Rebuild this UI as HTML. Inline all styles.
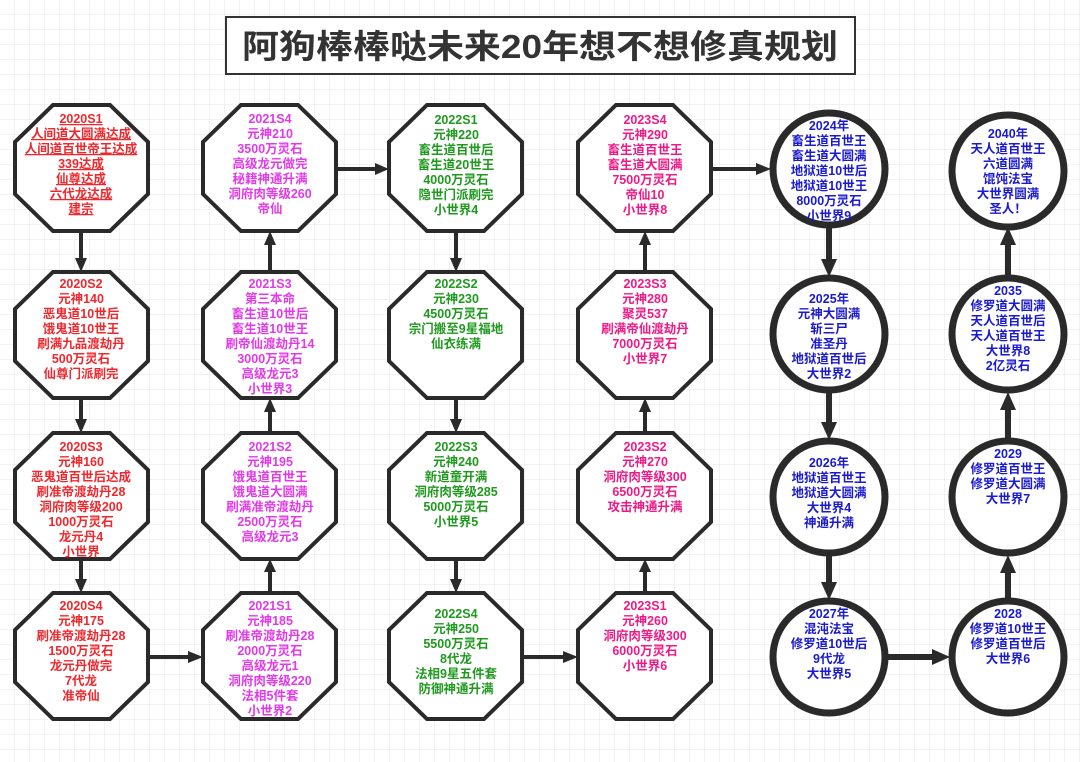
<!DOCTYPE html>
<html><head><meta charset="utf-8">
<style>
html,body{margin:0;padding:0;background:#fff;}
svg{display:block;}
text{font-family:"Liberation Sans","Noto Sans CJK SC",sans-serif;font-size:12.5px;font-weight:bold;text-anchor:middle;}
</style></head><body>
<svg width="1080" height="762" viewBox="0 0 1080 762" xmlns="http://www.w3.org/2000/svg">
<defs>
<pattern id="g" width="15" height="15" patternUnits="userSpaceOnUse">
<path d="M15 0V15H0" fill="none" stroke="#e6e6e6" stroke-width="1"/>
</pattern>
</defs>
<rect width="1080" height="762" fill="#fff"/>
<rect width="1080" height="762" fill="url(#g)"/>

<rect x="226" y="17" width="629" height="57" fill="#fff" stroke="#333" stroke-width="2"/>
<text x="540" y="58" style="font-size:33px;font-weight:bold;fill:#333" textLength="596" lengthAdjust="spacingAndGlyphs">阿狗棒棒哒未来20年想不想修真规划</text>

<g fill="#fff" stroke="#2a2a2a" stroke-width="4" stroke-linejoin="miter">
<polygon points="53,105 110,105 148,142 148,194 110,231 53,231 15,194 15,142"/>
<polygon points="53,272 110,272 148,309 148,361 110,398 53,398 15,361 15,309"/>
<polygon points="53,433 110,433 148,470 148,522 110,559 53,559 15,522 15,470"/>
<polygon points="53,593 110,593 148,630 148,682 110,719 53,719 15,682 15,630"/>
<polygon points="241,105 298,105 336,142 336,194 298,231 241,231 203,194 203,142"/>
<polygon points="241,272 298,272 336,309 336,361 298,398 241,398 203,361 203,309"/>
<polygon points="241,433 298,433 336,470 336,522 298,559 241,559 203,522 203,470"/>
<polygon points="241,593 298,593 336,630 336,682 298,719 241,719 203,682 203,630"/>
<polygon points="427,105 484,105 522,142 522,194 484,231 427,231 389,194 389,142"/>
<polygon points="427,272 484,272 522,309 522,361 484,398 427,398 389,361 389,309"/>
<polygon points="427,433 484,433 522,470 522,522 484,559 427,559 389,522 389,470"/>
<polygon points="427,593 484,593 522,630 522,682 484,719 427,719 389,682 389,630"/>
<polygon points="616,105 673,105 711,142 711,194 673,231 616,231 578,194 578,142"/>
<polygon points="616,272 673,272 711,309 711,361 673,398 616,398 578,361 578,309"/>
<polygon points="616,433 673,433 711,470 711,522 673,559 616,559 578,522 578,470"/>
<polygon points="616,593 673,593 711,630 711,682 673,719 616,719 578,682 578,630"/>
</g>
<g fill="#fff" stroke="#2a2a2a" stroke-width="7">
<circle cx="829" cy="169" r="56"/>
<circle cx="829" cy="334" r="56"/>
<circle cx="829" cy="497" r="56"/>
<circle cx="829" cy="657" r="56"/>
<circle cx="1008" cy="171" r="56"/>
<circle cx="1008" cy="334" r="56"/>
<circle cx="1008" cy="497" r="56"/>
<circle cx="1008" cy="657" r="56"/>
</g>

<g stroke="#2a2a2a" stroke-width="4" fill="none">
<line x1="81" y1="231" x2="81" y2="260"/>
<line x1="81" y1="398" x2="81" y2="421"/>
<line x1="81" y1="559" x2="81" y2="581"/>
<line x1="270" y1="593" x2="270" y2="570"/>
<line x1="270" y1="433" x2="270" y2="410"/>
<line x1="270" y1="272" x2="270" y2="243"/>
<line x1="456" y1="231" x2="456" y2="260"/>
<line x1="456" y1="398" x2="456" y2="421"/>
<line x1="456" y1="559" x2="456" y2="581"/>
<line x1="645" y1="593" x2="645" y2="570"/>
<line x1="645" y1="433" x2="645" y2="410"/>
<line x1="645" y1="272" x2="645" y2="243"/>
<line x1="148" y1="657" x2="190" y2="657"/>
<line x1="336" y1="169" x2="376" y2="169"/>
<line x1="522" y1="657" x2="565" y2="657"/>
<line x1="711" y1="169" x2="757" y2="169"/>
</g>
<g stroke="#2a2a2a" stroke-width="6" fill="none">
<line x1="829" y1="227" x2="829" y2="261"/>
<line x1="829" y1="392" x2="829" y2="424"/>
<line x1="829" y1="555" x2="829" y2="584"/>
<line x1="887" y1="657" x2="934" y2="657"/>
<line x1="1008" y1="600" x2="1008" y2="571"/>
<line x1="1008" y1="440" x2="1008" y2="408"/>
<line x1="1008" y1="277" x2="1008" y2="243"/>
</g>
<g fill="#2a2a2a">
<polygon points="75,258 87,258 81,272"/>
<polygon points="75,419 87,419 81,433"/>
<polygon points="75,579 87,579 81,593"/>
<polygon points="264,572 276,572 270,559"/>
<polygon points="264,412 276,412 270,398"/>
<polygon points="264,245 276,245 270,231"/>
<polygon points="450,258 462,258 456,272"/>
<polygon points="450,419 462,419 456,433"/>
<polygon points="450,579 462,579 456,593"/>
<polygon points="639,572 651,572 645,559"/>
<polygon points="639,412 651,412 645,398"/>
<polygon points="639,245 651,245 645,231"/>
<polygon points="188,651 188,663 203,657"/>
<polygon points="375,163 375,175 389,169"/>
<polygon points="563,651 563,663 578,657"/>
<polygon points="756,163 756,175 771,169"/>
<polygon points="821,259 837,259 829,277"/>
<polygon points="821,422 837,422 829,440"/>
<polygon points="821,582 837,582 829,600"/>
<polygon points="932,649 932,665 950,657"/>
<polygon points="1000,573 1016,573 1008,555"/>
<polygon points="1000,410 1016,410 1008,392"/>
<polygon points="1000,245 1016,245 1008,227"/>
</g>

<g fill="#f0282d">
<g style="text-decoration:underline">
<text x="81" y="123">2020S1</text><text x="81" y="138">人间道大圆满达成</text><text x="81" y="153">人间道百世帝王达成</text><text x="81" y="168">339达成</text><text x="81" y="183">仙尊达成</text><text x="81" y="198">六代龙达成</text><text x="81" y="213">建宗</text>
</g>
<text x="81" y="288">2020S2</text><text x="81" y="303">元神140</text><text x="81" y="318">恶鬼道10世后</text><text x="81" y="333">饿鬼道10世王</text><text x="81" y="348">刷满九品渡劫丹</text><text x="81" y="363">500万灵石</text><text x="81" y="378">仙尊门派刷完</text>
<text x="81" y="451">2020S3</text><text x="81" y="466">元神160</text><text x="81" y="481">恶鬼道百世后达成</text><text x="81" y="496">刷准帝渡劫丹28</text><text x="81" y="511">洞府肉等级200</text><text x="81" y="526">1000万灵石</text><text x="81" y="541">龙元丹4</text><text x="81" y="556">小世界</text>
<text x="81" y="610">2020S4</text><text x="81" y="625">元神175</text><text x="81" y="640">刷准帝渡劫丹28</text><text x="81" y="655">1500万灵石</text><text x="81" y="670">龙元丹做完</text><text x="81" y="685">7代龙</text><text x="81" y="700">准帝仙</text>
</g>
<g fill="#e23ae8">
<text x="270" y="123">2021S4</text><text x="270" y="138">元神210</text><text x="270" y="153">3500万灵石</text><text x="270" y="168">高级龙元做完</text><text x="270" y="183">秘籍神通升满</text><text x="270" y="198">洞府肉等级260</text><text x="270" y="213">帝仙</text>
<text x="270" y="288">2021S3</text><text x="270" y="303">第三本命</text><text x="270" y="318">畜生道10世后</text><text x="270" y="333">畜生道10世王</text><text x="270" y="348">刷帝仙渡劫丹14</text><text x="270" y="363">3000万灵石</text><text x="270" y="378">高级龙元3</text><text x="270" y="393">小世界3</text>
<text x="270" y="451">2021S2</text><text x="270" y="466">元神195</text><text x="270" y="481">饿鬼道百世王</text><text x="270" y="496">饿鬼道大圆满</text><text x="270" y="511">刷满准帝渡劫丹</text><text x="270" y="526">2500万灵石</text><text x="270" y="541">高级龙元3</text>
<text x="270" y="610">2021S1</text><text x="270" y="625">元神185</text><text x="270" y="640">刷准帝渡劫丹28</text><text x="270" y="655">2000万灵石</text><text x="270" y="670">高级龙元1</text><text x="270" y="685">洞府肉等级220</text><text x="270" y="700">法相5件套</text><text x="270" y="715">小世界2</text>
</g>
<g fill="#1e9a1e">
<text x="456" y="124">2022S1</text><text x="456" y="139">元神220</text><text x="456" y="154">畜生道百世后</text><text x="456" y="169">畜生道20世王</text><text x="456" y="184">4000万灵石</text><text x="456" y="199">隐世门派刷完</text><text x="456" y="214">小世界4</text>
<text x="456" y="288">2022S2</text><text x="456" y="303">元神230</text><text x="456" y="318">4500万灵石</text><text x="456" y="333">宗门搬至9星福地</text><text x="456" y="348">仙衣练满</text>
<text x="456" y="451">2022S3</text><text x="456" y="466">元神240</text><text x="456" y="481">新道童开满</text><text x="456" y="496">洞府肉等级285</text><text x="456" y="511">5000万灵石</text><text x="456" y="526">小世界5</text>
<text x="456" y="618">2022S4</text><text x="456" y="633">元神250</text><text x="456" y="648">5500万灵石</text><text x="456" y="663">8代龙</text><text x="456" y="678">法相9星五件套</text><text x="456" y="693">防御神通升满</text>
</g>
<g fill="#ef1a86">
<text x="645" y="124">2023S4</text><text x="645" y="139">元神290</text><text x="645" y="154">畜生道百世王</text><text x="645" y="169">畜生道大圆满</text><text x="645" y="184">7500万灵石</text><text x="645" y="199">帝仙10</text><text x="645" y="214">小世界8</text>
<text x="645" y="288">2023S3</text><text x="645" y="303">元神280</text><text x="645" y="318">聚灵537</text><text x="645" y="333">刷满帝仙渡劫丹</text><text x="645" y="348">7000万灵石</text><text x="645" y="363">小世界7</text>
<text x="645" y="451">2023S2</text><text x="645" y="466">元神270</text><text x="645" y="481">洞府肉等级300</text><text x="645" y="496">6500万灵石</text><text x="645" y="511">攻击神通升满</text>
<text x="645" y="610">2023S1</text><text x="645" y="625">元神260</text><text x="645" y="640">洞府肉等级300</text><text x="645" y="655">6000万灵石</text><text x="645" y="670">小世界6</text>
</g>
<g fill="#1a1ad0">
<text x="829" y="130">2024年</text><text x="829" y="145">畜生道百世王</text><text x="829" y="160">畜生道大圆满</text><text x="829" y="175">地狱道10世后</text><text x="829" y="190">地狱道10世王</text><text x="829" y="205">8000万灵石</text><text x="829" y="220">小世界9</text>
<text x="829" y="303">2025年</text><text x="829" y="318">元神大圆满</text><text x="829" y="333">斩三尸</text><text x="829" y="348">准圣丹</text><text x="829" y="363">地狱道百世后</text><text x="829" y="378">大世界2</text>
<text x="829" y="467">2026年</text><text x="829" y="482">地狱道百世王</text><text x="829" y="497">地狱道大圆满</text><text x="829" y="512">大世界4</text><text x="829" y="527">神通升满</text>
<text x="829" y="618">2027年</text><text x="829" y="633">混沌法宝</text><text x="829" y="648">修罗道10世后</text><text x="829" y="663">9代龙</text><text x="829" y="678">大世界5</text>
<text x="1008" y="138">2040年</text><text x="1008" y="153">天人道百世王</text><text x="1008" y="168">六道圆满</text><text x="1008" y="183">馄饨法宝</text><text x="1008" y="198">大世界圆满</text><text x="1008" y="213">圣人！</text>
<text x="1008" y="295">2035</text><text x="1008" y="310">修罗道大圆满</text><text x="1008" y="325">天人道百世后</text><text x="1008" y="340">天人道百世王</text><text x="1008" y="355">大世界8</text><text x="1008" y="370">2亿灵石</text>
<text x="1008" y="458">2029</text><text x="1008" y="473">修罗道百世王</text><text x="1008" y="488">修罗道大圆满</text><text x="1008" y="503">大世界7</text>
<text x="1008" y="618">2028</text><text x="1008" y="633">修罗道10世王</text><text x="1008" y="648">修罗道百世后</text><text x="1008" y="663">大世界6</text>
</g>
</svg>
</body></html>
